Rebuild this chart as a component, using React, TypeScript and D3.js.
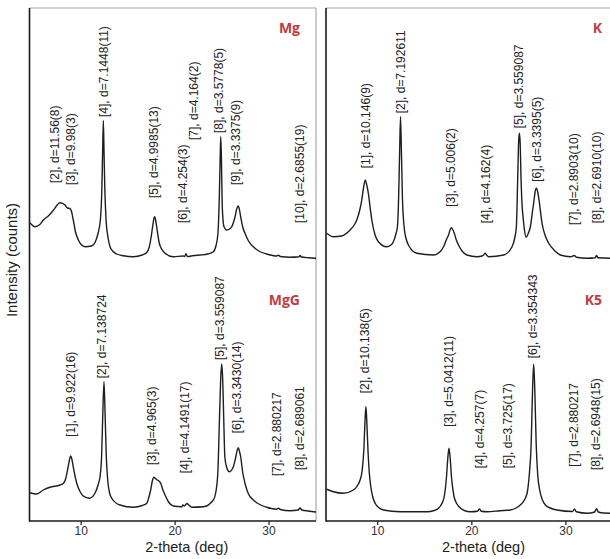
import React from "react";
import * as d3 from "d3";

// ---------- data (2-theta in deg, intensity in counts) ----------
const traceMg: [number, number][] = [[4.55,157],[5.09,141],[5.6,150],[5.97,168],[6.5,184],[7.0,205],[7.45,228],[7.75,237],[8.05,234],[8.28,228],[8.55,216],[8.8,214],[8.95,205],[9.16,168],[9.4,120],[9.7,88],[10.0,70],[10.41,61],[11.12,64],[11.5,80],[11.8,115],[12.05,170],[12.2,290],[12.28,430],[12.36,565],[12.44,430],[12.52,290],[12.65,170],[12.85,100],[13.07,61],[13.4,42],[13.78,32],[14.5,25],[15.55,21],[16.5,28],[16.98,38],[17.25,60],[17.45,100],[17.62,145],[17.75,175],[17.83,181],[17.92,170],[18.04,141],[18.32,75],[18.6,50],[18.93,35],[19.81,21],[20.87,24],[21.0,22],[21.16,33],[21.3,22],[22.0,26],[22.65,28],[23.5,32],[24.07,41],[24.35,65],[24.55,110],[24.7,250],[24.8,420],[24.86,501],[24.93,420],[25.0,250],[25.1,170],[25.21,141],[25.49,128],[25.8,132],[26.03,141],[26.38,181],[26.58,215],[26.7,224],[26.82,215],[26.98,181],[27.2,140],[27.44,115],[27.8,85],[28.33,61],[29.0,42],[29.75,32],[30.8,24],[30.99,27],[31.2,22],[32.23,19],[33.2,21],[33.3,26],[33.45,20],[34.2,17],[35.0,15]];

const traceMgG: [number, number][] = [[4.55,109],[5.27,104],[5.97,120],[6.68,131],[7.75,140],[8.1,146],[8.35,165],[8.6,210],[8.8,248],[8.89,256],[9.0,245],[9.16,213],[9.35,175],[9.53,147],[9.9,112],[10.23,96],[10.87,87],[11.47,107],[11.8,140],[12.01,173],[12.18,260],[12.3,420],[12.43,553],[12.55,420],[12.67,260],[12.85,150],[13.05,105],[13.25,87],[14.13,60],[15.55,51],[16.5,58],[16.98,67],[17.2,90],[17.4,120],[17.6,160],[17.75,171],[17.9,166],[18.1,160],[18.3,155],[18.47,147],[18.7,120],[18.93,100],[19.3,72],[19.81,56],[20.7,53],[20.85,60],[20.95,56],[21.1,60],[21.25,66],[21.41,62],[21.77,51],[23.0,53],[24.07,80],[24.35,115],[24.55,190],[24.72,400],[24.85,560],[24.96,624],[25.07,560],[25.18,400],[25.3,250],[25.5,210],[25.77,193],[26.2,213],[26.45,250],[26.62,280],[26.73,289],[26.85,275],[26.98,253],[27.2,190],[27.44,147],[27.8,105],[28.33,80],[29.0,62],[29.75,51],[30.8,43],[30.99,47],[31.2,42],[32.23,37],[33.1,40],[33.3,48],[33.5,40],[34.2,36],[35.0,32]];

const traceK: [number, number][] = [[4.57,115],[5.28,101],[6.17,104],[7.06,128],[7.5,148],[7.77,168],[8.1,210],[8.3,248],[8.5,300],[8.68,328],[8.82,310],[9.0,275],[9.2,215],[9.37,168],[9.7,110],[10.07,81],[10.96,61],[11.4,68],[11.66,81],[11.95,115],[12.09,141],[12.22,260],[12.33,450],[12.42,581],[12.51,450],[12.62,260],[12.8,141],[13.0,95],[13.26,68],[14.16,35],[15.92,28],[16.6,40],[16.99,61],[17.3,90],[17.52,108],[17.72,132],[17.84,137],[17.96,130],[18.13,115],[18.35,88],[18.58,68],[19.0,42],[19.48,28],[20.54,21],[21.08,24],[21.25,28],[21.43,35],[21.6,26],[21.78,21],[23.38,28],[24.27,61],[24.55,95],[24.73,141],[24.87,330],[24.97,480],[25.05,515],[25.13,480],[25.23,330],[25.35,220],[25.44,181],[25.6,125],[25.79,99],[26.0,115],[26.22,141],[26.45,205],[26.57,235],[26.72,280],[26.86,295],[27.0,280],[27.14,248],[27.3,200],[27.46,155],[27.8,105],[28.17,75],[28.8,45],[29.41,28],[30.5,21],[30.9,26],[31.1,19],[32.26,15],[33.1,17],[33.25,26],[33.4,17],[34.74,15],[35.0,15]];

const traceK5: [number, number][] = [[4.57,123],[5.28,113],[6.34,107],[7.41,120],[7.8,135],[8.12,160],[8.35,200],[8.52,280],[8.65,400],[8.74,453],[8.83,400],[8.96,280],[9.1,190],[9.26,133],[9.45,95],[9.72,67],[10.1,50],[10.6,40],[12.38,33],[15.22,33],[16.0,38],[16.46,47],[16.8,65],[17.06,93],[17.3,170],[17.45,250],[17.57,287],[17.69,250],[17.84,170],[18.1,95],[18.4,65],[18.69,51],[19.2,38],[19.83,33],[20.6,35],[20.82,44],[21.0,35],[21.61,33],[23.0,37],[24.09,40],[24.7,48],[25.15,60],[25.5,75],[25.87,107],[26.1,180],[26.3,300],[26.45,520],[26.57,623],[26.69,520],[26.84,300],[27.0,180],[27.21,120],[27.5,80],[27.82,60],[28.4,47],[29.06,40],[30.7,34],[30.9,44],[31.1,33],[32.26,27],[33.05,32],[33.25,45],[33.45,32],[34.0,28],[35.0,27]];

// peak labels: [text, 2-theta position, intensity where the label starts]
const labelsMg: [string, number, number][] = [
  ["[2], d=11.56(8)", 7.21, 316],
  ["[3], d=9.98(3)", 8.89, 308],
  ["[4], d=7.1448(11)", 12.45, 580],
  ["[5], d=4.9985(13)", 17.68, 256],
  ["[6], d=4.254(3)", 20.81, 156],
  ["[7], d=4.164(2)", 21.94, 488],
  ["[8], d=3.5778(5)", 24.6, 516],
  ["[9], d=3.3375(9)", 26.48, 308],
  ["[10], d=2.6855(19)", 33.29, 156],
];
const labelsMgG: [string, number, number][] = [
  ["[1], d=9.922(16)", 8.89, 333],
  ["[2], d=7.138724", 12.19, 567],
  ["[3], d=4.965(3)", 17.51, 220],
  ["[4], d=4.1491(17)", 21.05, 187],
  ["[5], d=3.559087", 24.78, 640],
  ["[6], d=3.3430(14)", 26.62, 347],
  ["[7], d=2.880217", 30.82, 176],
  ["[8], d=2.689061", 33.29, 200],
];
const labelsK: [string, number, number][] = [
  ["[1], d=10.146(9)", 8.76, 375],
  ["[2], d=7.192611", 12.45, 595],
  ["[3], d=5.006(2)", 17.78, 221],
  ["[4], d=4.162(4)", 21.43, 155],
  ["[5], d=3.559087", 24.97, 535],
  ["[6], d=3.3395(5)", 26.86, 321],
  ["[7], d=2.8903(10)", 30.83, 148],
  ["[8], d=2.6910(10)", 33.24, 155],
];
const labelsK5: [string, number, number][] = [
  ["[2], d=10.138(5)", 8.65, 507],
  ["[3], d=5.0412(11)", 17.52, 373],
  ["[4], d=4.257(7)", 20.82, 207],
  ["[5], d=3.725(17)", 23.8, 207],
  ["[6], d=3.354343", 26.46, 647],
  ["[7], d=2.880217", 30.83, 213],
  ["[8], d=2.6948(15)", 33.14, 200],
];

const panelNames = ["Mg", "MgG", "K", "K5"];
const xTicks = [10, 20, 30];
const xDomain: [number, number] = [4.5, 35];
const yDomain: [number, number] = [0, 1000];
const xTitle = "2-theta (deg)";
const yTitle = "Intensity (counts)";

// ---------- layout ----------
const W = 610, H = 559;
const cols = [
  { x0: 29.5, x1: 316 },
  { x0: 326, x1: 613 },
];
const rows = [
  { y0: 262, y1: 12 },
  { y0: 520, y1: 270 },
];
const TOP = 8, BOTTOM = 521;
const FONT = "'Liberation Sans', Arial, sans-serif";
const RED = "#c23b3f";

type Panel = { trace: [number, number][]; labels: [string, number, number][]; name: string; col: number; row: number };
const panels: Panel[] = [
  { trace: traceMg, labels: labelsMg, name: panelNames[0], col: 0, row: 0 },
  { trace: traceMgG, labels: labelsMgG, name: panelNames[1], col: 0, row: 1 },
  { trace: traceK, labels: labelsK, name: panelNames[2], col: 1, row: 0 },
  { trace: traceK5, labels: labelsK5, name: panelNames[3], col: 1, row: 1 },
];

export default function App() {
  const xScales = cols.map((c) => d3.scaleLinear().domain(xDomain).range([c.x0, c.x1]));
  const yScales = rows.map((r) => d3.scaleLinear().domain(yDomain).range([r.y0, r.y1]));

  return (
    <svg width={W} height={H} style={{ position: "absolute", left: 0, top: 0, background: "#fff" }} fontFamily={FONT}>
      <rect x={0} y={0} width={W} height={H} fill="#fff" />
      {/* frames */}
      {cols.map((c, i) => {
        const xs = xScales[i];
        return (
          <g key={"f" + i}>
            <line x1={c.x0} x2={c.x1} y1={TOP} y2={TOP} stroke="#a8a8a8" strokeWidth={1.2} />
            <line x1={c.x1} x2={c.x1} y1={TOP} y2={BOTTOM} stroke="#a8a8a8" strokeWidth={1.2} />
            <line x1={c.x0} x2={c.x0} y1={TOP} y2={BOTTOM + 0.8} stroke="#1a1a1a" strokeWidth={1.6} />
            <line x1={c.x0} x2={c.x1} y1={BOTTOM} y2={BOTTOM} stroke="#1a1a1a" strokeWidth={1.6} />
            {xTicks.map((t) => (
              <g key={t}>
                <line x1={xs(t)} x2={xs(t)} y1={BOTTOM} y2={BOTTOM + 4} stroke="#1a1a1a" strokeWidth={1.2} />
                <text x={xs(t)} y={BOTTOM + 14} textAnchor="middle" fontSize={12} fill="#333">{t}</text>
              </g>
            ))}
            <text x={(c.x0 + c.x1) / 2 + 14} y={552} textAnchor="middle" fontSize={14.5} fill="#222">{xTitle}</text>
          </g>
        );
      })}
      {/* traces and labels */}
      {panels.map((p, i) => {
        const xs = xScales[p.col];
        const ys = yScales[p.row];
        const line = d3.line<[number, number]>().x((d) => xs(d[0])).y((d) => ys(d[1])).curve(d3.curveMonotoneX);
        return (
          <g key={"p" + i}>
            <path d={line(p.trace) || ""} fill="none" stroke="#1e1e1e" strokeWidth={1.4} strokeLinejoin="round" />
            {p.labels.map(([txt, x, y], j) => (
              <text key={j} transform={`translate(${xs(x)},${ys(y)}) rotate(-90)`} dy="0.35em" fontSize={12} fill="#222">{txt}</text>
            ))}
            <text x={p.col === 0 ? 300 : 602} y={p.row === 0 ? 33 : 305} textAnchor="end" fontSize={14} fontWeight={700} fill={RED} fontFamily="'Open Sans', sans-serif">{p.name}</text>
          </g>
        );
      })}
      <text transform={`translate(17,260) rotate(-90)`} textAnchor="middle" fontSize={15} fill="#222">{yTitle}</text>
    </svg>
  );
}
